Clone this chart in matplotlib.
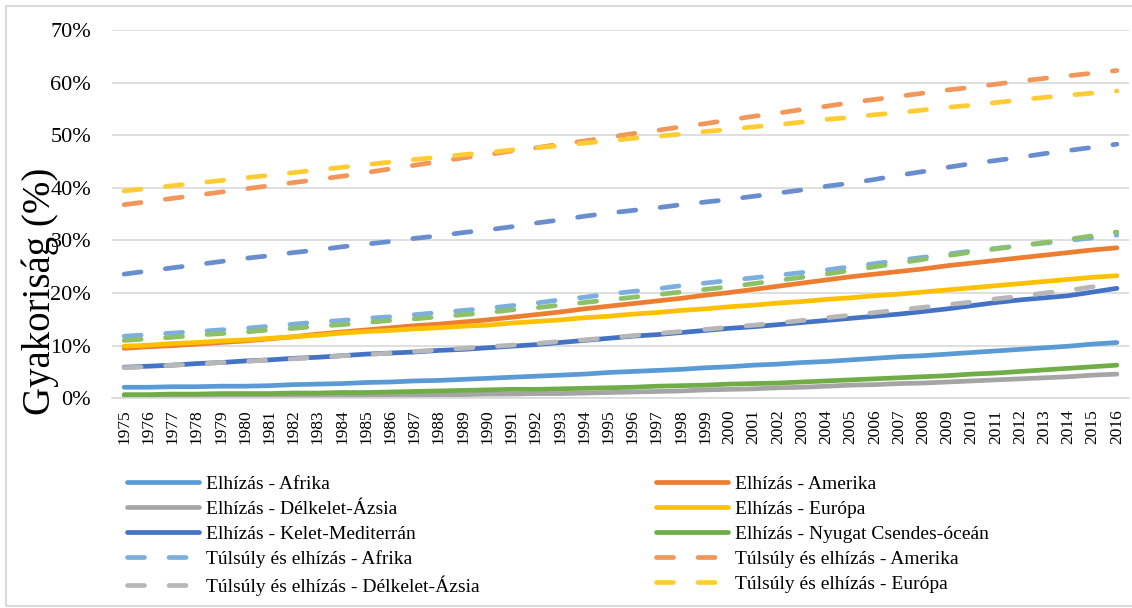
import matplotlib
matplotlib.use("Agg")
import matplotlib.pyplot as plt
from matplotlib.patches import Rectangle
from matplotlib.ticker import FuncFormatter

plt.rcParams['font.family'] = ['Liberation Serif', 'DejaVu Serif']

years = list(range(1975, 2017))

# Elhízás (solid)
elh_afrika = [2.1, 2.1, 2.2, 2.2, 2.3, 2.3, 2.4, 2.6, 2.7, 2.8, 3.0, 3.1, 3.3, 3.4, 3.6, 3.8,
              4.0, 4.2, 4.4, 4.6, 4.9, 5.1, 5.3, 5.5, 5.8, 6.0, 6.3, 6.5, 6.8, 7.0, 7.3,
              7.6, 7.9, 8.1, 8.4, 8.7, 9.0, 9.3, 9.6, 9.9, 10.3, 10.6]
elh_amerika = [9.5, 9.8, 10.0, 10.3, 10.6, 10.9, 11.3, 11.7, 12.2, 12.6, 13.0, 13.4, 13.8, 14.1,
               14.5, 14.9, 15.4, 15.9, 16.4, 17.0, 17.5, 18.0, 18.5, 19.0, 19.6, 20.1, 20.7,
               21.3, 21.9, 22.5, 23.1, 23.6, 24.1, 24.6, 25.2, 25.7, 26.2, 26.7, 27.2, 27.7,
               28.2, 28.6]
elh_dkazsia = [0.3, 0.3, 0.3, 0.4, 0.4, 0.4, 0.4, 0.4, 0.5, 0.5, 0.5, 0.6, 0.6, 0.7, 0.7, 0.8,
               0.8, 0.9, 0.9, 1.0, 1.1, 1.2, 1.3, 1.4, 1.6, 1.7, 1.8, 2.0, 2.1, 2.3, 2.5,
               2.6, 2.8, 2.9, 3.1, 3.3, 3.5, 3.7, 3.9, 4.1, 4.4, 4.6]
elh_europa = [9.9, 10.1, 10.4, 10.6, 10.9, 11.1, 11.4, 11.7, 12.0, 12.4, 12.7, 12.9, 13.2, 13.4,
              13.7, 13.9, 14.3, 14.6, 14.9, 15.3, 15.6, 16.0, 16.3, 16.7, 17.0, 17.4, 17.7,
              18.1, 18.4, 18.8, 19.1, 19.5, 19.8, 20.2, 20.6, 21.0, 21.4, 21.8, 22.2, 22.6,
              23.0, 23.3]
elh_kelet_med = [5.9, 6.1, 6.3, 6.6, 6.8, 7.1, 7.3, 7.6, 7.8, 8.1, 8.4, 8.6, 8.8, 9.1, 9.3, 9.6,
                 9.9, 10.2, 10.6, 11.0, 11.4, 11.8, 12.1, 12.5, 12.9, 13.3, 13.6, 14.0, 14.4,
                 14.8, 15.2, 15.6, 16.0, 16.5, 17.0, 17.6, 18.2, 18.7, 19.1, 19.5, 20.2, 20.9]
elh_nyugat = [0.7, 0.7, 0.8, 0.8, 0.9, 0.9, 0.9, 1.0, 1.0, 1.1, 1.1, 1.2, 1.3, 1.4, 1.5, 1.6,
              1.7, 1.7, 1.8, 1.9, 2.0, 2.1, 2.3, 2.4, 2.5, 2.7, 2.8, 2.9, 3.1, 3.3, 3.5,
              3.7, 3.9, 4.1, 4.3, 4.6, 4.8, 5.1, 5.4, 5.7, 6.0, 6.3]

# Túlsúly és elhízás (dashed)
tul_afrika = [11.8, 12.1, 12.4, 12.7, 13.0, 13.3, 13.7, 14.1, 14.5, 14.8, 15.2, 15.5, 15.9, 16.3,
              16.7, 17.1, 17.6, 18.1, 18.7, 19.2, 19.8, 20.3, 20.8, 21.4, 21.9, 22.4, 22.9,
              23.4, 23.9, 24.4, 25.0, 25.6, 26.2, 26.8, 27.4, 28.0, 28.5, 29.0, 29.5, 30.0,
              30.5, 31.0]
tul_amerika = [36.8, 37.4, 38.0, 38.6, 39.2, 39.8, 40.4, 41.0, 41.6, 42.2, 42.9, 43.6, 44.3, 45.0,
               45.7, 46.3, 47.0, 47.6, 48.3, 48.9, 49.6, 50.3, 50.9, 51.6, 52.2, 52.9, 53.6,
               54.2, 54.9, 55.5, 56.2, 56.8, 57.4, 58.0, 58.6, 59.1, 59.7, 60.3, 60.8, 61.3,
               61.8, 62.3]
tul_dkazsia = [5.8, 6.0, 6.3, 6.5, 6.8, 7.0, 7.3, 7.5, 7.8, 8.1, 8.3, 8.6, 8.9, 9.2, 9.5, 9.8,
               10.1, 10.4, 10.8, 11.1, 11.5, 11.9, 12.3, 12.7, 13.1, 13.5, 13.9, 14.3, 14.8,
               15.3, 15.8, 16.3, 16.8, 17.3, 17.8, 18.3, 18.9, 19.4, 20.0, 20.5, 21.2, 21.9]
tul_europa = [39.4, 39.9, 40.4, 40.9, 41.4, 41.9, 42.4, 42.9, 43.4, 43.9, 44.4, 44.9, 45.4, 45.8,
              46.3, 46.7, 47.2, 47.6, 48.0, 48.5, 48.9, 49.4, 49.8, 50.2, 50.7, 51.1, 51.6,
              52.0, 52.5, 53.0, 53.4, 53.9, 54.3, 54.8, 55.3, 55.7, 56.2, 56.7, 57.2, 57.6,
              58.0, 58.4]
tul_kelet_med = [23.6, 24.2, 24.8, 25.4, 26.0, 26.6, 27.1, 27.7, 28.2, 28.8, 29.3, 29.8, 30.4,
                 30.9, 31.5, 32.0, 32.6, 33.3, 33.9, 34.6, 35.2, 35.7, 36.2, 36.8, 37.3, 37.8,
                 38.4, 39.0, 39.6, 40.3, 40.9, 41.6, 42.4, 43.1, 43.9, 44.6, 45.2, 45.8, 46.5,
                 47.1, 47.7, 48.3]
tul_nyugat = [11.0, 11.3, 11.6, 12.0, 12.3, 12.6, 13.0, 13.3, 13.7, 14.0, 14.4, 14.8, 15.1, 15.5,
              15.9, 16.3, 16.8, 17.2, 17.7, 18.2, 18.7, 19.2, 19.7, 20.2, 20.7, 21.2, 21.8,
              22.4, 23.0, 23.6, 24.3, 25.0, 25.7, 26.4, 27.1, 27.8, 28.4, 29.0, 29.6, 30.2,
              30.9, 31.6]

# drawing order as in the original workbook
series = [
    ("Elhízás - Afrika", elh_afrika, "#5B9BD5", False),
    ("Elhízás - Amerika", elh_amerika, "#ED7D31", False),
    ("Elhízás - Délkelet-Ázsia", elh_dkazsia, "#A5A5A5", False),
    ("Elhízás - Európa", elh_europa, "#FFC000", False),
    ("Elhízás - Kelet-Mediterrán", elh_kelet_med, "#4472C4", False),
    ("Elhízás - Nyugat Csendes-óceán", elh_nyugat, "#70AD47", False),
    ("Túlsúly és elhízás - Afrika", tul_afrika, "#7DAFDE", True),
    ("Túlsúly és elhízás - Amerika", tul_amerika, "#F1975A", True),
    ("Túlsúly és elhízás - Délkelet-Ázsia", tul_dkazsia, "#B7B7B7", True),
    ("Túlsúly és elhízás - Európa", tul_europa, "#FFCD33", True),
    ("Túlsúly és elhízás - Kelet-Mediterrán", tul_kelet_med, "#698ED0", True),
    ("Túlsúly és elhízás - Nyugat Csendes-óceán", tul_nyugat, "#8CC168", True),
]

fig = plt.figure(figsize=(11.32, 6.08), dpi=100)
ax = fig.add_axes([112 / 1132, 1 - 398.3 / 608, (1129 - 112) / 1132, (398.3 - 30) / 608])

x = list(range(len(years)))
handles = []
for name, vals, col, dashed in series:
    if dashed:
        ln, = ax.plot(x, vals, color=col, lw=3.4, dashes=(3.6, 5.2),
                      dash_capstyle='round', solid_capstyle='round', label=name)
    else:
        ln, = ax.plot(x, vals, color=col, lw=3.4, solid_capstyle='round', label=name)
    handles.append(ln)

ax.set_xlim(-0.5, len(years) - 0.5)
ax.set_ylim(0, 70)
ax.set_yticks(range(0, 71, 10))
ax.yaxis.set_major_formatter(FuncFormatter(lambda v, p: f"{int(v)}%"))
ax.set_xticks(x)
ax.set_xticklabels([str(y) for y in years], rotation=90, fontsize=12.5)
ax.tick_params(axis='y', labelsize=16, length=0, pad=15)
ax.tick_params(axis='x', length=0, pad=8)
ax.grid(axis='y', color='#D9D9D9', lw=1.2)
ax.set_axisbelow(True)
for s in ['top', 'right', 'left']:
    ax.spines[s].set_visible(False)
ax.spines['bottom'].set_color('#D9D9D9')
ax.spines['bottom'].set_linewidth(1.2)

fig.text(40 / 1132, 1 - 291 / 608, "Gyakoriság (%)", rotation=90, fontsize=28,
         ha='center', va='center')

# legend shows only the first ten series, laid out row by row like Excel
order = [0, 2, 4, 6, 8, 1, 3, 5, 7, 9]
leg = fig.legend([handles[i] for i in order], [series[i][0] for i in order],
                 ncol=2, loc='upper left', bbox_to_anchor=(127 / 1132, 1 - 475 / 608),
                 frameon=False, fontsize=14, handlelength=3.7, handletextpad=0.35,
                 columnspacing=9.1, labelspacing=0.38, borderpad=0, borderaxespad=0)

fig.patches.append(Rectangle((5.5 / 1132, 2 / 608), 1130 / 1132, 600.5 / 608,
                             transform=fig.transFigure, fill=False,
                             edgecolor='#D9D9D9', lw=1.5))

fig.savefig("out.png", dpi=100)
